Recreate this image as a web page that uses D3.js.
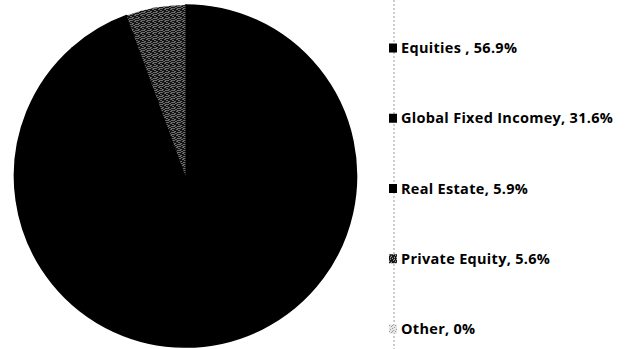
<!DOCTYPE html>
<html>
<head>
<meta charset="utf-8">
<script src="https://cdn.jsdelivr.net/npm/d3@7"></script>
<style>
  html, body { margin: 0; padding: 0; background: #fff; }
  svg { display: block; }
</style>
</head>
<body>
<svg id="chart" width="636" height="349"></svg>
<script>
// Asset allocation shares (%)
const categories = ["Equities", "Global Fixed Incomey", "Real Estate", "Private Equity", "Other"];
const values = [56.9, 31.6, 5.9, 5.6, 0];
const legendLabels = ["Equities , 56.9%", "Global Fixed Incomey, 31.6%", "Real Estate, 5.9%", "Private Equity, 5.6%", "Other, 0%"];
const fills = ["#000", "#000", "#000", "url(#speckDark)", "url(#speckLight)"];

const svg = d3.select("#chart");
const W = 636, H = 349;

// Speckled fills
const defs = svg.append("defs");
function speckle(id, bg, dot, cells) {
  const p = defs.append("pattern").attr("id", id)
    .attr("patternUnits", "userSpaceOnUse").attr("width", 6).attr("height", 6);
  p.append("rect").attr("width", 6).attr("height", 6).attr("fill", bg);
  cells.forEach(([x, y]) => p.append("rect").attr("x", x).attr("y", y)
    .attr("width", 1).attr("height", 1).attr("fill", dot));
}
speckle("speckDark", "#141414", "#c4c4c4", [[0,0],[3,1],[1,3],[4,4],[5,2],[2,5],[4,0],[0,4]]);
speckle("speckLight", "#e6e6e6", "#9a9a9a", [[0,0],[3,1],[1,3],[4,4],[5,2],[2,5],[2,2]]);

// Pie
const cx = 185.5, cy = 176, r = 171;
const pie = d3.pie().sort(null).value(d => d.v);
const arc = d3.arc().innerRadius(0).outerRadius(r);
const data = categories.map((c, i) => ({ c, v: values[i], f: fills[i] }));

svg.append("g").attr("transform", `translate(${cx},${cy})`)
  .selectAll("path").data(pie(data)).join("path")
  .attr("d", arc)
  .attr("fill", d => d.data.f)
  .attr("stroke", d => d.data.f.startsWith("#") ? d.data.f : "none")
  .attr("stroke-width", 1.6)
  .attr("stroke-linejoin", "round");

// Legend
const legendX = 394;
svg.append("line")
  .attr("x1", legendX).attr("x2", legendX).attr("y1", 0).attr("y2", H)
  .attr("stroke", "#9a9a9a").attr("stroke-width", 1).attr("stroke-dasharray", "2,2");

const ly = d3.scalePoint().domain(categories).range([48, 329]);
const lg = svg.append("g").selectAll("g").data(data).join("g")
  .attr("transform", d => `translate(0,${ly(d.c)})`);
lg.append("rect").attr("x", legendX - 5).attr("y", -4.5)
  .attr("width", 8).attr("height", 9).attr("fill", d => d.f);
lg.append("text").attr("x", 401).attr("y", 5)
  .attr("font-family", "'Open Sans', sans-serif")
  .attr("font-weight", "bold").attr("font-size", 14.5)
  .attr("letter-spacing", 0.3).attr("fill", "#000")
  .text((d, i) => legendLabels[i]);
</script>
</body>
</html>
